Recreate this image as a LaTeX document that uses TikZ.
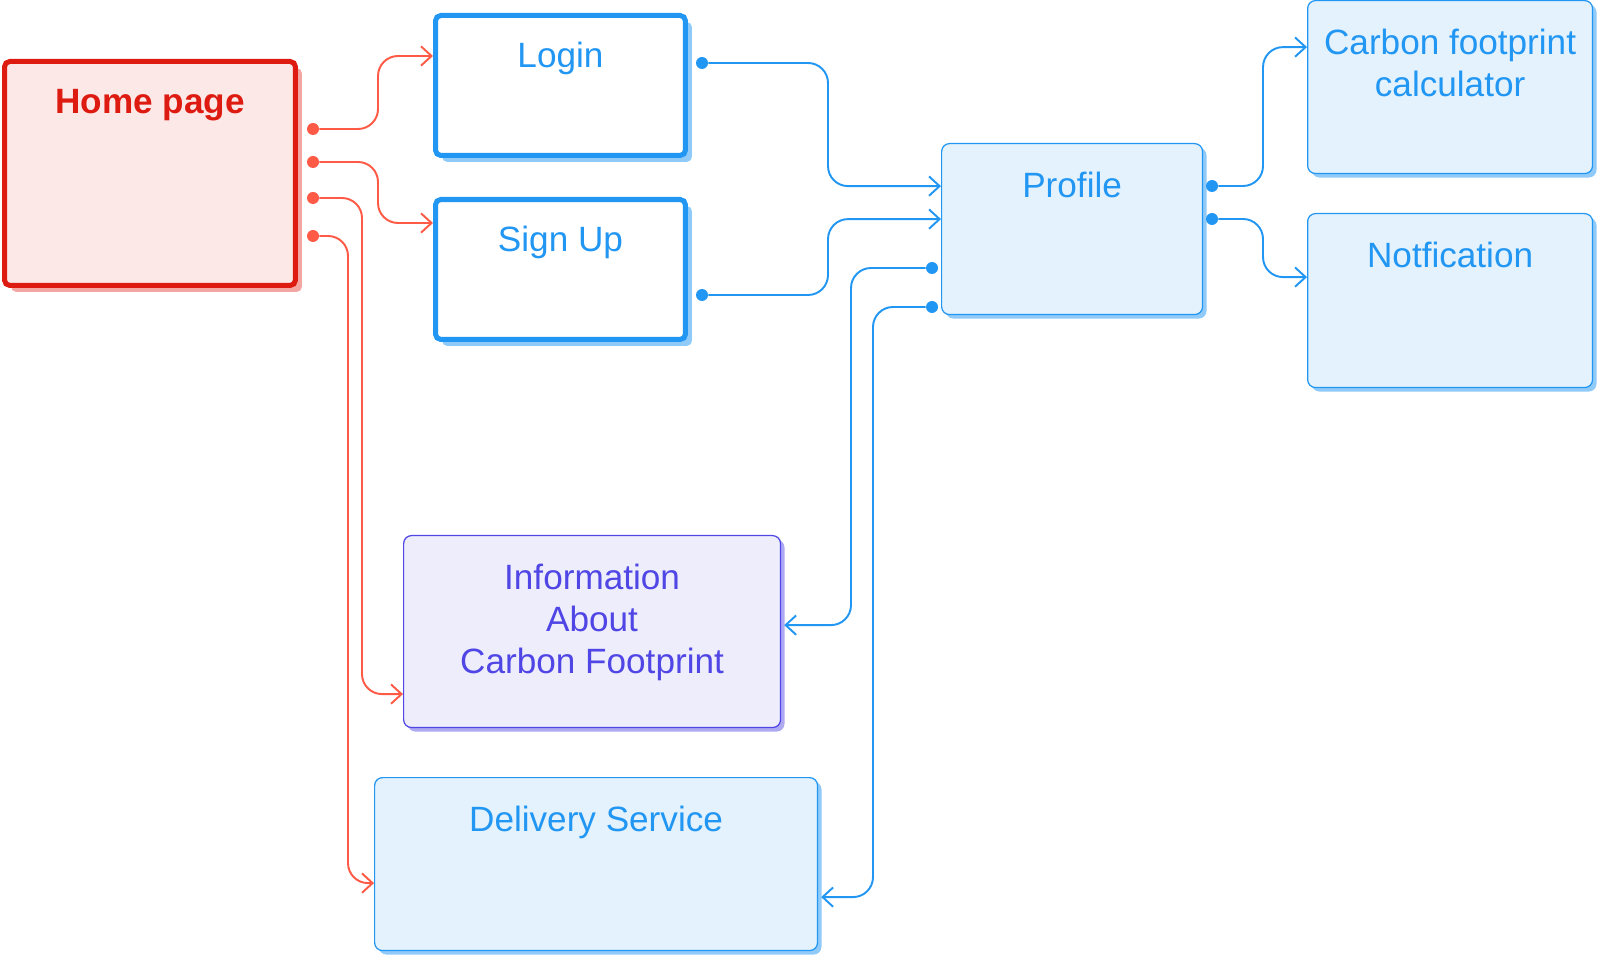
\documentclass[tikz,border=0pt]{standalone}
\usepackage{fontspec}
\setmainfont{Liberation Sans}
\usetikzlibrary{arrows.meta,shadows}

\definecolor{homered}{HTML}{DD1B10}
\definecolor{homefill}{HTML}{FDE8E8}
\definecolor{homeshadow}{HTML}{F4A7A2}
\definecolor{linkred}{HTML}{FF5A45}
\definecolor{appblue}{HTML}{2196F3}
\definecolor{appfill}{HTML}{E3F2FD}
\definecolor{appshadow}{HTML}{90CAF9}
\definecolor{infopurple}{HTML}{4F46E5}
\definecolor{infofill}{HTML}{EEEDFC}
\definecolor{infoshadow}{HTML}{ADA9F2}

\tikzset{
	pagebox/.style={draw, inner sep=0pt, anchor=north west},
	heavybox/.style={pagebox, line width=2.85pt, rounded corners=3pt,
		drop shadow={shadow xshift=0.13cm, shadow yshift=-0.13cm, fill=#1, opacity=1}},
	lightbox/.style={pagebox, line width=0.7pt, rounded corners=4.5pt,
		drop shadow={shadow xshift=0.08cm, shadow yshift=-0.08cm, fill=#1, opacity=1}},
	lbl/.style={inner sep=0pt, anchor=base, align=center, font=\fontsize{20}{24}\selectfont},
	port/.style={circle, fill=#1, inner sep=0pt, minimum size=0.24cm},
	link/.style={line width=1.1pt, rounded corners=0.4cm, -{Straight Barb[length=6pt,width=11pt]}}
}

\begin{document}
\begin{tikzpicture}[x=0.02cm, y=-0.02cm]
	\useasboundingbox (0,0) rectangle (1598,955);

	% Home page
	\node[heavybox=homeshadow, draw=homered, fill=homefill, minimum width=5.82cm, minimum height=4.48cm] (home) at (2,59) {};
	\node[lbl, text=homered, font=\fontsize{20}{24}\selectfont\bfseries] (home-t) at ([yshift=-1.1cm]home.north) {Home page};
	\node[port=linkred] (hp1) at (313,129) {};
	\node[port=linkred] (hp2) at (313,162) {};
	\node[port=linkred] (hp3) at (313,198) {};
	\node[port=linkred] (hp4) at (313,236) {};

	% Login and Sign Up
	\node[heavybox=appshadow, draw=appblue, fill=white, minimum width=5cm, minimum height=2.8cm] (login) at (433,13) {};
	\node[lbl, text=appblue] (login-t) at ([yshift=-1.1cm]login.north) {Login};
	\node[heavybox=appshadow, draw=appblue, fill=white, minimum width=5cm, minimum height=2.8cm] (signup) at (433,197) {};
	\node[lbl, text=appblue] (signup-t) at ([yshift=-1.1cm]signup.north) {Sign Up};
	\node[port=appblue] (lg) at (702,63) {};
	\node[port=appblue] (su) at (702,295) {};

	% Profile
	\node[lightbox=appshadow, draw=appblue, fill=appfill, minimum width=5.22cm, minimum height=3.42cm] (profile) at (941,143) {};
	\node[lbl, text=appblue] (profile-t) at ([yshift=-1.1cm]profile.north) {Profile};
	\node[port=appblue] (pf1) at (932,268) {};
	\node[port=appblue] (pf2) at (932,307) {};
	\node[port=appblue] (pf3) at (1212,186) {};
	\node[port=appblue] (pf4) at (1212,219) {};

	% Calculator and notification
	\node[lightbox=appshadow, draw=appblue, fill=appfill, minimum width=5.7cm, minimum height=3.46cm] (carbon) at (1307,0) {};
	\node[lbl, text=appblue] (carbon-t) at ([yshift=-1.94cm]carbon.north) {Carbon footprint\\calculator};
	\node[lightbox=appshadow, draw=appblue, fill=appfill, minimum width=5.7cm, minimum height=3.48cm] (notif) at (1307,213) {};
	\node[lbl, text=appblue] (notif-t) at ([yshift=-1.1cm]notif.north) {Notfication};

	% Information and delivery
	\node[lightbox=infoshadow, draw=infopurple, fill=infofill, minimum width=7.54cm, minimum height=3.84cm] (info) at (403,535) {};
	\node[lbl, text=infopurple] (info-t) at ([yshift=-2.78cm]info.north) {Information\\About\\Carbon Footprint};
	\node[lightbox=appshadow, draw=appblue, fill=appfill, minimum width=8.86cm, minimum height=3.46cm] (delivery) at (374,777) {};
	\node[lbl, text=appblue] (delivery-t) at ([yshift=-1.1cm]delivery.north) {Delivery Service};

	% Links from home page
	\draw[link, linkred] (hp1) -- ++(65,0) |- ([yshift=0.59cm]login.west);
	\draw[link, linkred] (hp2) -- ++(65,0) |- ([yshift=0.93cm]signup.west);
	\draw[link, linkred] (hp3) -- ++(49,0) |- ([yshift=-1.25cm]info.west);
	\draw[link, linkred] (hp4) -- ++(35,0) |- ([yshift=-0.38cm]delivery.west);

	% Links to and from profile
	\draw[link, appblue] (lg) -- ++(126,0) |- ([yshift=0.86cm]profile.west);
	\draw[link, appblue] (su) -- ++(126,0) |- ([yshift=0.2cm]profile.west);
	\draw[link, appblue] (pf1) -- ++(-81,0) |- ([xshift=0.06cm, yshift=0.13cm]info.east);
	\draw[link, appblue] (pf2) -- ++(-59,0) |- ([xshift=0.06cm, yshift=-0.66cm]delivery.east);
	\draw[link, appblue] (pf3) -- ++(51,0) |- ([yshift=0.8cm]carbon.west);
	\draw[link, appblue] (pf4) -- ++(51,0) |- ([yshift=0.47cm]notif.west);
\end{tikzpicture}
\end{document}
